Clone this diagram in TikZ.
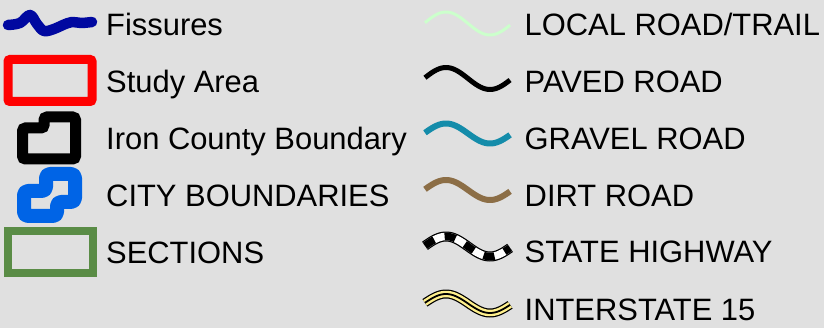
\documentclass[tikz,border=0pt]{standalone}
\usepackage{fontspec}
\setmainfont{Liberation Sans}
\definecolor{bgcol}{RGB}{224,224,224}
\definecolor{fissure}{RGB}{0,8,160}
\definecolor{studyred}{RGB}{255,0,0}
\definecolor{citycol}{RGB}{0,100,230}
\definecolor{sectcol}{RGB}{90,140,70}
\definecolor{localcol}{RGB}{204,255,204}
\definecolor{gravelcol}{RGB}{20,140,170}
\definecolor{dirtcol}{RGB}{140,110,70}
\definecolor{interyellow}{RGB}{255,240,140}
\tikzset{
  lbl/.style={anchor=base west,inner sep=0pt,font=\fontsize{30.9}{36}\selectfont,text=black},
  pics/wave/.style n args={3}{code={
    \draw[line cap=butt,#3] plot[domain=4:352,samples=60,smooth] ({446+(\x-90)*0.24444},{#1-#2*sin(\x)});
  }}
}
\begin{document}
\begin{tikzpicture}[x=1pt,y=-1pt]
\fill[bgcol] (0,0) rectangle (824,328);
\useasboundingbox (0,0) rectangle (824,328);

% left symbols
\draw[fissure,line width=10.5,line cap=round,line join=round]
  plot[smooth,tension=0.6] coordinates {(8,25) (20,23) (30,15) (37,24) (44,31) (54,29) (63,25) (72,22) (81,23) (92,22)};
\draw[studyred,line width=9,rounded corners=2] (8,59.5) rectangle (92,101.5);
\draw[black,line width=11,rounded corners=3] (22.5,128) -- (44,128) -- (44,117) -- (75.5,117) -- (75.5,159) -- (22.5,159) -- cycle;
\draw[citycol,line width=14,rounded corners=4,line join=round] (24,191) -- (46,191) -- (46,174) -- (75,174) -- (75,202) -- (57,202) -- (57,216) -- (24,216) -- cycle;
\draw[sectcol,line width=8] (7.5,231) rectangle (92.5,273);

% left labels
\node[lbl] (fis) at (106,36) {Fissures};
\node[lbl] (stu) at (106,92.7) {Study Area};
\node[lbl] (iron) at (106,149.5) {Iron County Boundary};
\node[lbl] (city) at (106,206.5) {CITY BOUNDARIES};
\node[lbl] (sec) at (106,263.3) {SECTIONS};

% right symbols
\pic (wl) {wave={23.5}{11.5}{localcol,line width=3}};
\pic (wp) {wave={78.5}{11}{black,line width=5}};
\pic (wg) {wave={133.5}{10}{gravelcol,line width=6}};
\pic (wd) {wave={190}{10}{dirtcol,line width=6}};
\pic (ws1) {wave={246.5}{10}{black,line width=10}};
\pic (ws2) {wave={246.5}{10}{white,line width=7.5}};
\pic (ws3) {wave={246.5}{10}{black,line width=7.5,dash pattern=on 11 off 11}};
\pic (wi1) {wave={303.5}{9.5}{black,line width=9}};
\pic (wi2) {wave={303.5}{9.5}{interyellow,line width=6.5}};
\pic (wi3) {wave={303.5}{9.5}{black,line width=1.8}};

% right labels
\node[lbl] (loc) at (524.5,36) {LOCAL ROAD/TRAIL};
\node[lbl] (pav) at (524.5,92.7) {PAVED ROAD};
\node[lbl] (gra) at (524.5,149.5) {GRAVEL ROAD};
\node[lbl] (dir) at (524.5,206.3) {DIRT ROAD};
\node[lbl] (sta) at (524.5,263) {STATE HIGHWAY};
\node[lbl] (int) at (524.5,320) {INTERSTATE 15};
\end{tikzpicture}
\end{document}
